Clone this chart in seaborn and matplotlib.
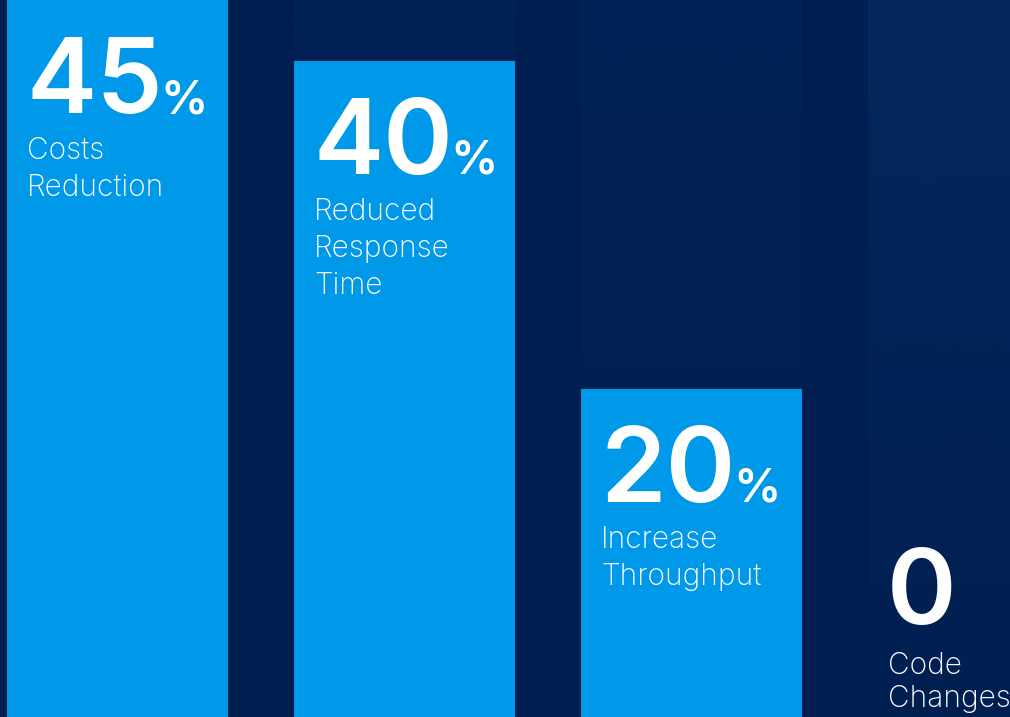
import numpy as np
import pandas as pd
import matplotlib
matplotlib.use("Agg")
import matplotlib.pyplot as plt
import seaborn as sns
from matplotlib.colors import to_rgb

# ---- data ----
categories = ["Costs Reduction", "Reduced Response Time", "Increase Throughput", "Code Changes"]
values = [45, 40, 20, 0]
value_labels = ["45", "40", "20", "0"]
units = ["%", "%", "%", ""]
captions = [["Costs", "Reduction"],
            ["Reduced", "Response", "Time"],
            ["Increase", "Throughput"],
            ["Code", "Changes"]]

# ---- style ----
BG = "#001E50"
BAR = "#0098E8"
COLSHADE = "#0A3672"
col_strength = [0.15, 0.18, 0.20, 0.40]

sns.set_theme(style="white")
plt.rcParams['font.family'] = ['Inter', 'DejaVu Sans']

W, H, DPI = 1010, 717, 100
fig = plt.figure(figsize=(W / DPI, H / DPI), dpi=DPI, facecolor=BG)
ax = fig.add_axes([0, 0, 1, 1])
ax.set_facecolor(BG)

bw = 0.77
pitch_px = 287.0
px_per_unit = 16.4
ymax = H / px_per_unit
xleft = -117.5 / pitch_px
xright = xleft + W / pitch_px

# faint background column gradients (decoration)
rgb = to_rgb(COLSHADE)
N = 256
for i, s in enumerate(col_strength):
    alpha = s * (np.linspace(1, 0.2, N) ** 1.3)
    grad = np.zeros((N, 1, 4))
    grad[:, 0, :3] = rgb
    grad[:, 0, 3] = alpha
    ax.imshow(grad, extent=(i - bw / 2, i + bw / 2, 0, ymax), aspect='auto',
              origin='upper', zorder=1, interpolation='bilinear')

df = pd.DataFrame({"category": categories, "value": values})
sns.barplot(data=df, x="category", y="value", color=BAR, saturation=1,
            width=bw, ax=ax, linewidth=0, zorder=3)

ax.set_xlim(xleft, xright)
ax.set_ylim(0, ymax)
ax.set_axis_off()

PT = 72.0 / DPI  # points per pixel
num_size = 76
pct_size = 34
cap_size = 21.5
num_base = 113   # px below block top
cap_base = 159
line_gap = 37
dx_px = 19

renderer = fig.canvas.get_renderer()
for i, (v, lab, unit, caps) in enumerate(zip(values, value_labels, units, captions)):
    left = i - bw / 2
    anchor_y = min(v, ymax)
    bar_px = anchor_y * px_per_unit
    n = len(caps)
    block_px = cap_base + line_gap * (n - 1) + 20
    if bar_px < block_px + 20:
        # bar too short: put the block above it
        top_off = -(cap_base + line_gap * (n - 1) + 10)
        gap = 33
    else:
        top_off = 0
        gap = line_gap
    first_cap = cap_base + (line_gap - gap) * (n - 1)
    t = ax.annotate(lab, xy=(left, anchor_y), xycoords='data',
                    xytext=(dx_px * PT, -(top_off + num_base) * PT),
                    textcoords='offset points', ha='left', va='baseline',
                    fontsize=num_size, fontweight='semibold', color='white',
                    zorder=5, annotation_clip=False)
    if unit:
        bb = t.get_window_extent(renderer)
        x0 = ax.transData.transform((left, anchor_y))[0]
        ax.annotate(unit, xy=(left, anchor_y), xycoords='data',
                    xytext=((bb.x1 - x0 - 2) * PT, -(top_off + num_base) * PT),
                    textcoords='offset points', ha='left', va='baseline',
                    fontsize=pct_size, fontweight='semibold', color='white',
                    zorder=5, annotation_clip=False)
    for j, c in enumerate(caps):
        ax.annotate(c, xy=(left, anchor_y), xycoords='data',
                    xytext=((dx_px + 1) * PT, -(top_off + first_cap + j * gap) * PT),
                    textcoords='offset points', ha='left', va='baseline',
                    fontsize=cap_size, fontweight='light', color='white',
                    zorder=5, annotation_clip=False)

fig.savefig("out.png", dpi=DPI, facecolor=BG)
